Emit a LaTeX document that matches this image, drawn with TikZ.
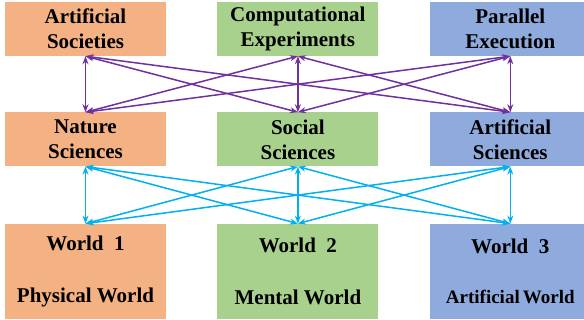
\documentclass[tikz,border=0pt]{standalone}
\usepackage{fontspec}
\setmainfont{Liberation Serif}
\usetikzlibrary{arrows.meta,positioning}

\definecolor{boxorange}{HTML}{F4B183}
\definecolor{boxgreen}{HTML}{A9D18E}
\definecolor{boxblue}{HTML}{8FAADC}
\definecolor{linkpurple}{HTML}{7030A0}
\definecolor{linkcyan}{HTML}{00B0F0}

\begin{document}
\begin{tikzpicture}[
  box/.style={rectangle, inner sep=0pt, minimum width=161pt, minimum height=54pt, align=center,
    font=\fontsize{21}{25}\selectfont\bfseries},
  worldbox/.style={box, minimum height=95pt},
  link/.style={{Stealth[length=8pt,width=6pt]}-{Stealth[length=8pt,width=6pt]}, line width=1.5pt},
  node distance=56pt and 51pt
]
\useasboundingbox (0,0) rectangle (584pt,-320pt);

% Top row
\node[box, fill=boxorange] (artsoc) at (85.5pt,-29pt) {Artificial\\Societies};
\node[box, fill=boxgreen, right=of artsoc] (compexp) {Computational\\Experiments};
\node[box, fill=boxblue, right=of compexp] (parexec) {Parallel\\Execution};

% Sciences
\node[box, fill=boxorange, below=of artsoc] (natsci) {Nature\\Sciences};
\node[box, fill=boxgreen, below=of compexp] (socsci) {Social\\Sciences};
\node[box, fill=boxblue, below=of parexec] (artsci) {Artificial\\Sciences};

% Worlds
\node[worldbox, fill=boxorange, below=57pt of natsci] (world1) {World~~1\\[27pt]Physical World};
\node[worldbox, fill=boxgreen, below=57pt of socsci] (world2) {World~~2\\[27pt]Mental World};
\node[worldbox, fill=boxblue, below=57pt of artsci] (world3) {World~~3\\[25pt]{\fontsize{19}{25}\selectfont Artificial\,World}};

% Connections top row to sciences
\foreach \a in {artsoc,compexp,parexec}
  \foreach \b in {natsci,socsci,artsci}
    \draw[link, linkpurple] (\a.south) -- (\b.north);

% Connections sciences to worlds
\foreach \a in {natsci,socsci,artsci}
  \foreach \b in {world1,world2,world3}
    \draw[link, linkcyan] (\a.south) -- (\b.north);

\end{tikzpicture}
\end{document}
